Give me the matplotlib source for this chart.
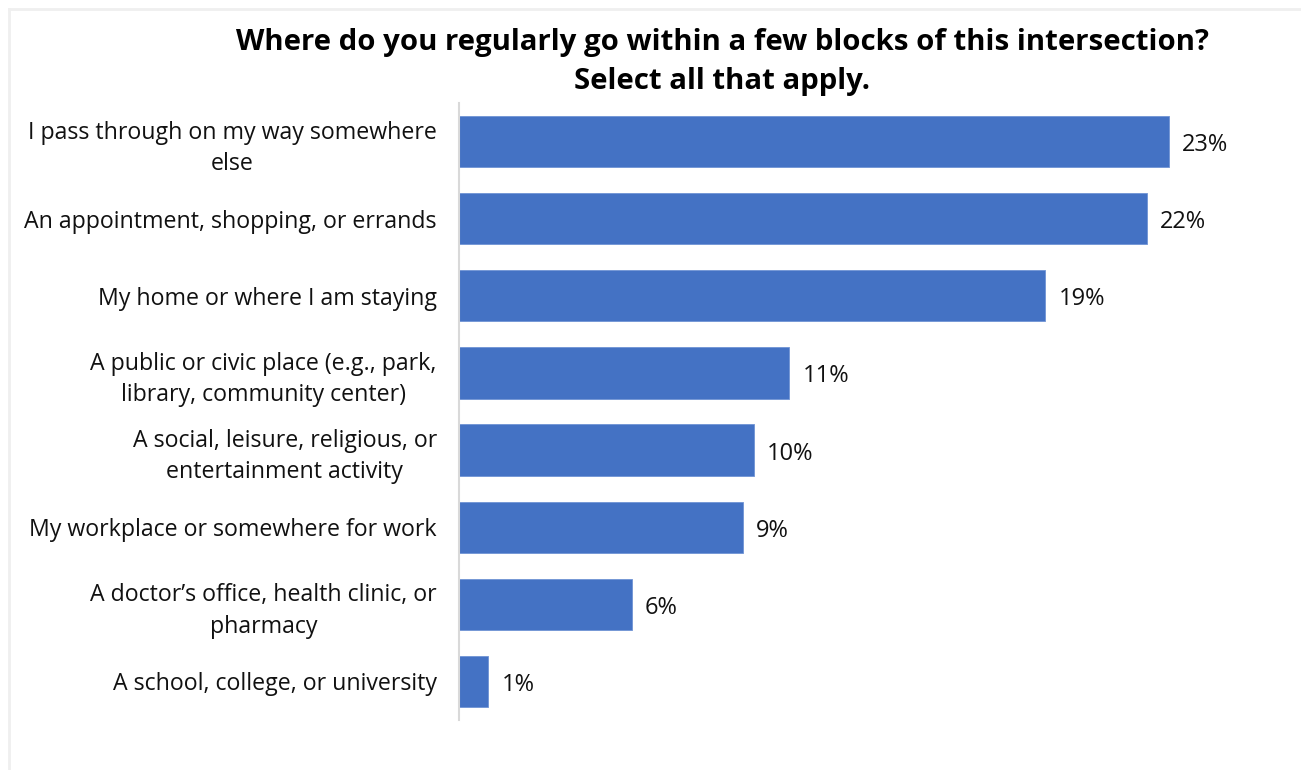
import matplotlib.pyplot as plt
from matplotlib.lines import Line2D

# survey answers, top to bottom
categories = [
    "I pass through on my way somewhere\nelse",
    "An appointment, shopping, or errands",
    "My home or where I am staying",
    "A public or civic place (e.g., park,\nlibrary, community center)",
    "A social, leisure, religious, or\nentertainment activity",
    "My workplace or somewhere for work",
    "A doctor\u2019s office, health clinic, or\npharmacy",
    "A school, college, or university",
]
shares = [23.0, 22.3, 19.0, 10.7, 9.55, 9.2, 5.6, 0.95]

title = ("Where do you regularly go within a few blocks of this intersection?\n"
         "Select all that apply.")

W, H = 1301, 770
fig = plt.figure(figsize=(W / 100, H / 100), dpi=100)
fig.patch.set_facecolor("white")

# faint frame around the chart area
frame = dict(color="#efefef", lw=2, transform=fig.transFigure)
fig.add_artist(Line2D([9 / W, 1], [1 - 9 / H, 1 - 9 / H], **frame))
fig.add_artist(Line2D([9 / W, 9 / W], [0, 1 - 9 / H], **frame))

ax_left, ax_right = 459, 1280
ax_top, ax_bot = 103, 720
ax = fig.add_axes([ax_left / W, 1 - ax_bot / H,
                   (ax_right - ax_left) / W, (ax_bot - ax_top) / H])

y = list(range(len(categories)))
ax.barh(y, shares, height=0.665, color="#4472C4", edgecolor="#6f93d4", linewidth=0.6)
ax.set_ylim(len(categories) - 0.5, -0.5)
ax.set_xlim(0, (ax_right - ax_left) / 30.86)

ax.set_yticks(y)
ax.set_yticklabels(categories, fontsize=16.7, family=["Open Sans", "DejaVu Sans"],
                   color="#111111", multialignment="center", linespacing=1.4)
ax.tick_params(axis="y", length=0, pad=16)
ax.set_xticks([])

for s in ["top", "right", "bottom"]:
    ax.spines[s].set_visible(False)
ax.spines["left"].set_color("#d9d9d9")
ax.spines["left"].set_linewidth(1.5)

for yi, v in zip(y, shares):
    ax.annotate(f"{v:.0f}%", (v, yi), xytext=(9.5, -2.5), textcoords="offset points",
                va="center", ha="left", fontsize=17, family="Open Sans", color="#111111")

fig.text(722 / W, 1 - 62 / H, title, ha="center", va="center", fontsize=21.2,
         fontweight="bold", family="Open Sans", color="black", linespacing=1.42)

fig.savefig("out.png", dpi=100, facecolor="white")
